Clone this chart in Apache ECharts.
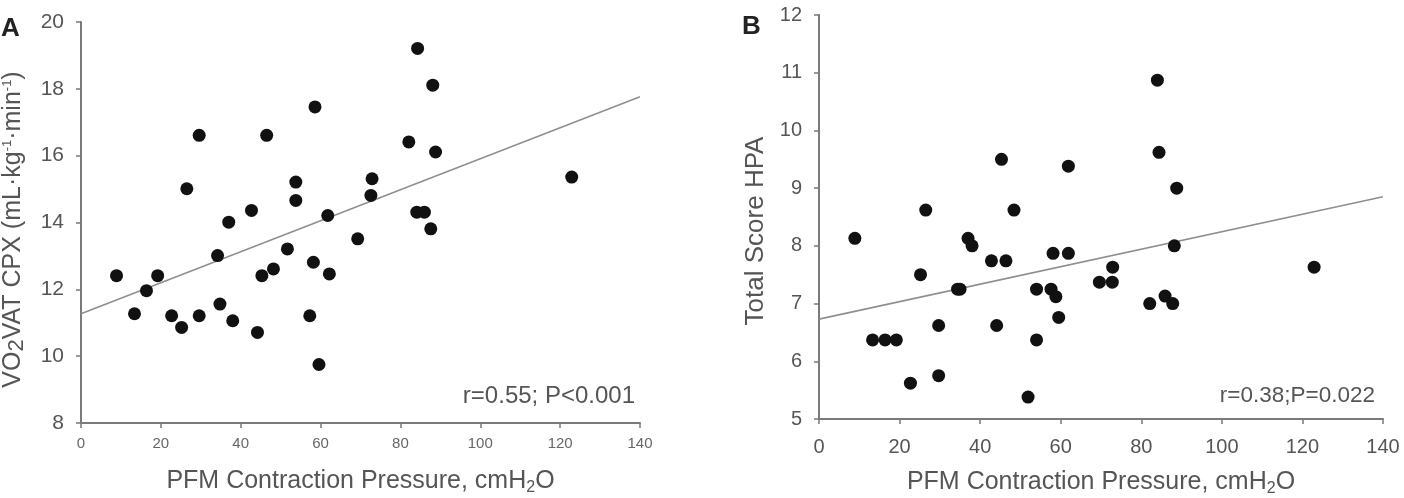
<!DOCTYPE html>
<html>
<head>
<meta charset="utf-8">
<script src="https://cdn.jsdelivr.net/npm/echarts@6/dist/echarts.min.js"></script>
<style>
  html, body { margin: 0; padding: 0; background: #fff; }
  #chart { width: 1404px; height: 498px; }
</style>
</head>
<body>
<div id="chart"></div>
<script>
// Panel A: PFM contraction pressure vs VO2 at VAT
const pressureA = [8.9, 13.4, 16.4, 19.2, 22.7, 25.2, 26.5, 29.6, 29.6, 34.2, 34.8, 37.0, 38.0, 42.7, 44.2, 45.3, 46.5, 48.2, 51.7, 53.8, 53.8, 57.3, 58.2, 58.6, 59.6, 61.8, 62.2, 69.3, 72.6, 72.9, 82.1, 84.1, 84.3, 86.0, 87.6, 88.1, 88.8, 122.9];
const vo2A = [12.41, 11.27, 11.96, 12.41, 11.21, 10.86, 15.01, 16.61, 11.21, 13.01, 11.56, 14.01, 11.06, 14.36, 10.71, 12.41, 16.61, 12.61, 13.21, 15.21, 14.66, 11.21, 12.81, 17.46, 9.75, 14.21, 12.46, 13.51, 14.81, 15.31, 16.41, 14.31, 19.21, 14.31, 13.81, 18.11, 16.11, 15.36];
const fitXA = [0, 140];
const fitYA = [11.27, 17.76];

// Panel B: PFM contraction pressure vs total HPA score
const pressureB = [8.9, 13.3, 16.4, 19.2, 22.7, 25.2, 26.5, 29.7, 29.7, 34.4, 35.0, 37.0, 38.0, 42.8, 44.1, 45.3, 46.4, 48.4, 51.9, 54.0, 54.0, 57.6, 58.1, 58.8, 59.5, 61.9, 61.9, 69.6, 72.8, 72.9, 82.1, 84.0, 84.4, 85.9, 87.8, 88.2, 88.8, 122.9];
const hpaB = [8.13, 6.37, 6.37, 6.37, 5.62, 7.50, 8.62, 6.62, 5.75, 7.25, 7.25, 8.13, 8.00, 7.74, 6.62, 9.50, 7.74, 8.62, 5.38, 7.25, 6.37, 7.25, 7.87, 7.12, 6.76, 9.38, 7.87, 7.37, 7.37, 7.63, 7.00, 10.87, 9.62, 7.13, 7.00, 8.00, 9.00, 7.63];
const fitXB = [0, 140];
const fitYB = [6.73, 8.85];

const pairs = (xs, ys) => xs.map((x, i) => [x, ys[i]]);

const FONT = 'Liberation Sans, Arial, sans-serif';
const TEXT = '#555';
const AXIS = '#7a7a7a';

const chart = echarts.init(document.getElementById('chart'));

const axisBase = {
  axisLine: { show: true, lineStyle: { color: AXIS, width: 2 } },
  axisTick: { show: true, inside: false, length: 5, lineStyle: { color: AXIS, width: 1.5 } },
  splitLine: { show: false },
  nameLocation: 'middle',
};

const xName = 'PFM Contraction Pressure, cmH{sub|2}O';
const xNameStyle = {
  color: TEXT, fontSize: 25, fontFamily: FONT,
  rich: { sub: { fontSize: 16, color: TEXT, fontFamily: FONT, padding: [13, 0, 0, 0] } },
};

const options = {
  animation: false,
  backgroundColor: '#fff',
  textStyle: { fontFamily: FONT },
  grid: [
    { left: 81, right: 764, top: 22, bottom: 75, containLabel: false, outerBoundsMode: 'none' },
    { left: 819, right: 21, top: 15, bottom: 79, containLabel: false, outerBoundsMode: 'none' },
  ],
  xAxis: [
    {
      ...axisBase,
      gridIndex: 0, type: 'value', min: 0, max: 140, interval: 20,
      axisLabel: { color: '#666', fontSize: 15, margin: 13, fontFamily: FONT },
      name: xName, nameGap: 44, nameTextStyle: xNameStyle,
    },
    {
      ...axisBase,
      gridIndex: 1, type: 'value', min: 0, max: 140, interval: 20,
      axisLabel: { color: TEXT, fontSize: 20, margin: 18, fontFamily: FONT },
      name: xName, nameGap: 49, nameTextStyle: xNameStyle,
    },
  ],
  yAxis: [
    {
      ...axisBase,
      gridIndex: 0, type: 'value', min: 8, max: 20, interval: 2,
      axisLabel: { color: TEXT, fontSize: 21, margin: 17, fontFamily: FONT },
      name: 'VO{sub|2}VAT CPX (mL·kg{sup|-1}·min{sup|-1})',
      nameGap: 53,
      nameTextStyle: {
        color: TEXT, fontSize: 25, fontFamily: FONT, padding: [0, 14, 0, 0],
        rich: {
          sub: { fontSize: 22, color: TEXT, fontFamily: FONT, padding: [8, 0, 0, 0] },
          sup: { fontSize: 13, color: TEXT, fontFamily: FONT, padding: [0, 0, 11, 0] },
        },
      },
    },
    {
      ...axisBase,
      gridIndex: 1, type: 'value', min: 5, max: 12, interval: 1,
      axisLabel: { color: TEXT, fontSize: 20, margin: 17, fontFamily: FONT },
      name: 'Total Score HPA',
      nameGap: 50,
      nameTextStyle: { color: TEXT, fontSize: 26, fontFamily: FONT, padding: [0, 28, 0, 0] },
    },
  ],
  series: [
    {
      type: 'line', xAxisIndex: 0, yAxisIndex: 0,
      data: pairs(fitXA, fitYA), symbol: 'none',
      lineStyle: { color: '#8f8f8f', width: 1.6 }, z: 1,
    },
    {
      type: 'scatter', xAxisIndex: 0, yAxisIndex: 0,
      data: pairs(pressureA, vo2A), symbolSize: 13,
      itemStyle: { color: '#111', opacity: 1 }, z: 2,
    },
    {
      type: 'line', xAxisIndex: 1, yAxisIndex: 1,
      data: pairs(fitXB, fitYB), symbol: 'none',
      lineStyle: { color: '#8f8f8f', width: 1.6 }, z: 1,
    },
    {
      type: 'scatter', xAxisIndex: 1, yAxisIndex: 1,
      data: pairs(pressureB, hpaB), symbolSize: 13,
      itemStyle: { color: '#111', opacity: 1 }, z: 2,
    },
  ],
  graphic: [
    { type: 'text', left: 1, top: 16, style: { text: 'A', font: 'bold 26px ' + FONT, fill: '#222' } },
    { type: 'text', left: 742, top: 14, style: { text: 'B', font: 'bold 26px ' + FONT, fill: '#222' } },
    { type: 'text', right: 769, top: 384, style: { text: 'r=0.55; P<0.001', font: '24px ' + FONT, fill: TEXT } },
    { type: 'text', right: 29, top: 384, style: { text: 'r=0.38;P=0.022', font: '22.5px ' + FONT, fill: TEXT } },
  ],
};

chart.setOption(options);
window.addEventListener('resize', () => chart.resize());
</script>
</body>
</html>
